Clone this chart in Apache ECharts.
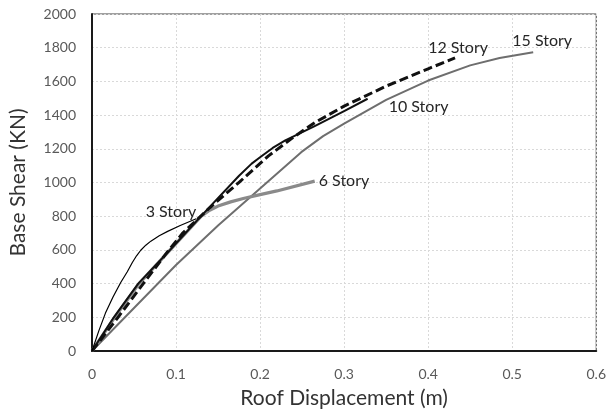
<!DOCTYPE html>
<html>
<head>
<meta charset="utf-8">
<script src="https://cdn.jsdelivr.net/npm/echarts@6/dist/echarts.min.js"></script>
<style>
  html, body { margin: 0; padding: 0; background: #fff; }
  #chart { width: 609px; height: 414px; }
</style>
</head>
<body>
<div id="chart"></div>
<script>
// Pushover capacity curves: [roof displacement (m), base shear (kN)]
const story3 = [[0,0],[0.008,118],[0.016,225],[0.025,320],[0.034,405],[0.042,470],[0.048,525],[0.053,565],[0.058,598],[0.064,628],[0.07,652],[0.08,684],[0.09,710],[0.105,745],[0.124,785]];
const story6 = [[0,0],[0.027,200],[0.056,400],[0.093,600],[0.13,800],[0.14,835],[0.15,860],[0.165,885],[0.18,905],[0.2,928],[0.22,950],[0.265,1008]];
const story10 = [[0,0],[0.026,200],[0.055,400],[0.093,600],[0.132,812],[0.175,1040],[0.19,1112],[0.2,1150],[0.215,1205],[0.23,1250],[0.265,1335],[0.3,1424],[0.328,1497]];
const story12 = [[0,0],[0.031,200],[0.061,400],[0.09,590],[0.108,700],[0.14,850],[0.175,1001],[0.21,1158],[0.24,1270],[0.265,1355],[0.3,1453],[0.35,1572],[0.4,1675],[0.432,1739]];
const story15 = [[0,0],[0.05,255],[0.1,510],[0.15,745],[0.2,965],[0.249,1180],[0.275,1275],[0.3,1350],[0.35,1490],[0.4,1605],[0.45,1695],[0.485,1739],[0.525,1773]];

const xTicks = [0, 0.1, 0.2, 0.3, 0.4, 0.5, 0.6];
const yTicks = [0, 200, 400, 600, 800, 1000, 1200, 1400, 1600, 1800, 2000];

const FONT = 'Lato';
const labelStyle = { color: '#262626', fontFamily: FONT, fontSize: 16 };

function curve(name, data, line, tag) {
  const last = data[data.length - 1];
  return {
    name: name,
    type: 'line',
    data: data,
    smooth: false,
    symbol: 'none',
    lineStyle: Object.assign({ join: 'round', cap: 'butt' }, line),
    z: line.z || 2,
    markPoint: {
      symbol: 'circle',
      symbolSize: 0,
      silent: true,
      data: [{ coord: last, value: name }],
      label: Object.assign({ show: true, formatter: name }, labelStyle, tag)
    }
  };
}

const chart = echarts.init(document.getElementById('chart'), null, { renderer: 'canvas' });
chart.setOption({
  animation: false,
  grid: {
    left: 88, right: 11, top: 14, bottom: 61,
    show: true, borderColor: '#404040', borderWidth: 1
  },
  xAxis: {
    type: 'value',
    min: xTicks[0], max: xTicks[xTicks.length - 1], interval: 0.1,
    name: 'Roof Displacement (m)',
    nameLocation: 'middle', nameGap: 37,
    nameTextStyle: { fontFamily: FONT, fontSize: 21, color: '#333' },
    axisLine: { show: true, onZero: false, lineStyle: { color: '#1a1a1a', width: 2 } },
    axisTick: { show: false },
    axisLabel: { fontFamily: FONT, fontSize: 14, color: '#595959', margin: 16,
      formatter: v => String(Math.round(v * 10) / 10) },
    splitLine: { show: true, lineStyle: { color: '#d9d9d9', type: [2, 2], width: 1 } }
  },
  yAxis: {
    type: 'value',
    min: yTicks[0], max: yTicks[yTicks.length - 1], interval: 200,
    name: 'Base Shear (KN)',
    nameLocation: 'middle', nameGap: 63, nameRotate: 90,
    nameTextStyle: { fontFamily: FONT, fontSize: 21, color: '#333' },
    axisLine: { show: true, lineStyle: { color: '#1a1a1a', width: 2 } },
    axisTick: { show: false },
    axisLabel: { fontFamily: FONT, fontSize: 14, color: '#595959', margin: 16,
      formatter: v => String(v) },
    splitLine: { show: true, lineStyle: { color: '#d9d9d9', type: [2, 2], width: 1 } }
  },
  series: [
    curve('15 Story', story15, { color: '#6e6e6e', width: 2 },
      { position: 'top', distance: 3, offset: [9, 0] }),
    curve('6 Story', story6, { color: '#8a8a8a', width: 3.2 },
      { position: 'right', distance: 4, offset: [0, 0] }),
    curve('10 Story', story10, { color: '#111', width: 2, z: 3 },
      { position: 'right', distance: 21, offset: [0, 8] }),
    curve('12 Story', story12, { color: '#111', width: 3, type: [9, 4], z: 4 },
      { position: 'top', distance: 2, offset: [3, 0] }),
    curve('3 Story', story3, { color: '#000', width: 1.2, z: 5 },
      { position: 'left', distance: 0, offset: [0, -7] })
  ]
});
</script>
</body>
</html>
